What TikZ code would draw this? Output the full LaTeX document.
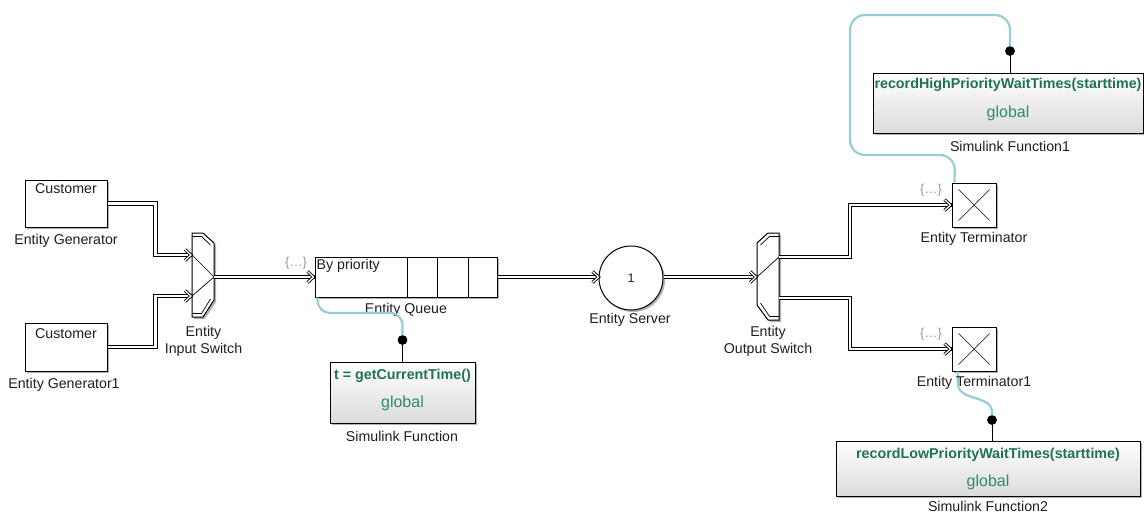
\documentclass[tikz,border=0pt]{standalone}
\usepackage{fontspec}
\setmainfont{Liberation Sans}
\usetikzlibrary{arrows.meta,shadows,calc}
\definecolor{sigc}{RGB}{150,206,212}
\definecolor{fgreen}{RGB}{30,115,85}
\definecolor{ggreen}{RGB}{45,140,110}
\definecolor{txt}{RGB}{30,30,30}
\newcommand{\entchev}[1]{\draw[line width=0.9pt, double=white, double distance=1.3pt, line join=miter, line cap=butt] ($(#1)+(-7,-5.5)$) -- ($(#1)+(-1,0)$) -- ($(#1)+(-7,5.5)$);}
\begin{document}
\begin{tikzpicture}[x=1pt,y=-1pt,
  font=\fontsize{14.2}{16}\selectfont,
  shd/.style={drop shadow={shadow xshift=2pt,shadow yshift=-2pt,opacity=0.3,fill=black}},
  blk/.style={draw, line width=1pt, fill=white, inner sep=0pt, shd},
  fnblk/.style={draw, line width=1pt, top color=white, bottom color=black!14, inner sep=0pt, shd},
  lbl/.style={text=txt, inner sep=0pt},
  ent/.style={draw, line width=1.1pt, double=white, double distance=2.6pt},
  ellip/.style={text=black!40, font=\fontsize{13}{15}\selectfont, inner sep=0pt},
  sigl/.style={draw=sigc, line width=2.2pt},
  dotc/.style={circle, fill=black, inner sep=0pt, minimum size=9.5pt},
  fntxt/.style={text=fgreen, font=\fontsize{14.3}{16}\selectfont\bfseries, inner sep=0pt},
  gltxt/.style={text=ggreen, font=\fontsize{16}{18}\selectfont, inner sep=0pt},
  thin/.style={line width=0.7pt}
]
\useasboundingbox (0,0) rectangle (1144,514);

% Entity generators
\node[blk, minimum width=82pt, minimum height=47pt] (gen1) at (66,203.5) {};
\node[lbl] (gen1t) at (66,189) {Customer};
\node[lbl] (gen1l) at (66,241) {Entity Generator};
\node[blk, minimum width=82pt, minimum height=48pt] (gen2) at (66,347) {};
\node[lbl] (gen2t) at (66,334) {Customer};
\node[lbl] (gen2l) at (64,385) {Entity Generator1};

% Entity input switch
\path[draw, line width=1pt, fill=white, shd] (192,233) -- (203,233) -- (214,243) -- (214,300) -- (203,317) -- (192,317) -- cycle;
\draw[thin] (192,236.5) -- (201.5,236.5) -- (210.5,245);
\draw[thin] (192,313.5) -- (201.5,313.5) -- (210.5,299);
\coordinate (isw1) at (192,255);
\coordinate (isw2) at (192,296);
\coordinate (iswo) at (214,277);
\draw[thin] (isw1) -- (iswo) -- (isw2);
\node[lbl] (iswl1) at (203.5,333) {Entity};
\node[lbl] (iswl2) at (203.5,350) {Input Switch};

% Entity queue
\node[blk, minimum width=182pt, minimum height=40pt] (q) at (406,277) {};
\draw[thin] (407,257) -- (407,297) (437,257) -- (437,297) (468,257) -- (468,297);
\node[lbl, anchor=west] (qt) at (316.5,266) {By priority};
\node[lbl] (ql) at (406,310) {Entity Queue};
\node[ellip] (qe) at (296,263) {\{…\}};

% Entity server
\node[blk, circle, minimum size=64pt] (srv) at (631,278) {};
\node[lbl, font=\fontsize{12.5}{14}\selectfont] (srvt) at (631,278) {1};
\node[lbl] (srvl) at (630,320) {Entity Server};

% Entity output switch
\path[draw, line width=1pt, fill=white, shd] (757,243) -- (768,233) -- (779,233) -- (779,320) -- (768,320) -- (757,305) -- cycle;
\draw[thin] (760.5,245) -- (769.5,236.5) -- (779,236.5);
\draw[thin] (760.5,303) -- (769.5,316.5) -- (779,316.5);
\coordinate (oswi) at (757,277);
\coordinate (osw1) at (779,257);
\coordinate (osw2) at (779,298);
\draw[thin] (oswi) -- (osw1);
\node[lbl] (oswl1) at (768,333) {Entity};
\node[lbl] (oswl2) at (768,350) {Output Switch};

% Terminators
\node[blk, minimum size=44pt] (t1) at (974,205) {};
\draw[thin, black!80] ($(t1.north west)+(7,7)$) -- ($(t1.south east)+(-7,-7)$) ($(t1.south west)+(7,-7)$) -- ($(t1.north east)+(-7,7)$);
\node[lbl] (t1l) at (974,239) {Entity Terminator};
\node[ellip] (t1e) at (931,190) {\{…\}};
\node[blk, minimum size=44pt] (t2) at (974,349) {};
\draw[thin, black!80] ($(t2.north west)+(7,7)$) -- ($(t2.south east)+(-7,-7)$) ($(t2.south west)+(7,-7)$) -- ($(t2.north east)+(-7,7)$);
\node[ellip] (t2e) at (931,334) {\{…\}};

% Simulink functions
\node[fnblk, minimum width=145pt, minimum height=61pt] (sf) at (402.5,392.5) {};
\node[fntxt] (sft) at (402.5,376) {t = getCurrentTime()};
\node[gltxt] (sfg) at (402.5,403) {global};
\node[lbl] (sfl) at (402,436) {Simulink Function};
\node[dotc] (d1) at (402.5,340) {};

\node[fnblk, minimum width=270pt, minimum height=60pt] (sf1) at (1008,103) {};
\node[fntxt] (sf1t) at (1008,85) {recordHighPriorityWaitTimes(starttime)};
\node[gltxt] (sf1g) at (1008,113) {global};
\node[lbl] (sf1l) at (1010,146) {Simulink Function1};
\node[dotc] (d2) at (1010,51) {};

\node[fnblk, minimum width=304pt, minimum height=55pt] (sf2) at (988,468.5) {};
\node[fntxt] (sf2t) at (988,455) {recordLowPriorityWaitTimes(starttime)};
\node[gltxt] (sf2g) at (988,482) {global};
\node[lbl] (sf2l) at (988,506) {Simulink Function2};
\node[dotc] (d3) at (992,420) {};

% signal (cyan) links
\draw[sigl, rounded corners=12pt] (d1.center) -- (402.5,313) -- (318,313) -- ($(q.south west)+(3,0)$);
\draw[sigl, rounded corners=15pt] (d2.center) -- (1010,15) -- (850,15) -- (850,155) -- (955,155) -- ($(t1.north west)+(3,0)$);
\draw[sigl] ($(t2.south west)+(6,0)$) -- (958,384) to[out=-90,in=90] (992,412) -- (d3.center);
\node[lbl] (t2l) at (974,383) {Entity Terminator1};

% black stubs and dots
\draw[line width=1pt] (d1) -- (sf.north -| d1);
\draw[line width=1pt] (d2) -- (sf1.north -| d2);
\draw[line width=1pt] (d3) -- (sf2.north -| d3);
\node[dotc] at (d1) {};
\node[dotc] at (d2) {};
\node[dotc] at (d3) {};

% entity connections
\draw[ent] (gen1.east) -- ++(48,0) |- (isw1);
\draw[ent] (gen2.east) -- ++(48,0) |- (isw2);
\draw[ent] (iswo) -- (iswo -| q.west);
\draw[ent] (q.east |- iswo) -- (iswo -| srv.west);
\draw[ent] (srv.east |- iswo) -- (oswi);
\draw[ent] (osw1) -- ++(71,0) |- (t1.west);
\draw[ent] (osw2) -- ++(71,0) |- (t2.west);
\coordinate (qin) at (iswo -| q.west);
\coordinate (sin) at ($(iswo -| srv.west)+(1,0)$);
\entchev{isw1}
\entchev{isw2}
\entchev{qin}
\entchev{sin}
\entchev{oswi}
\entchev{t1.west}
\entchev{t2.west}
\end{tikzpicture}
\end{document}
